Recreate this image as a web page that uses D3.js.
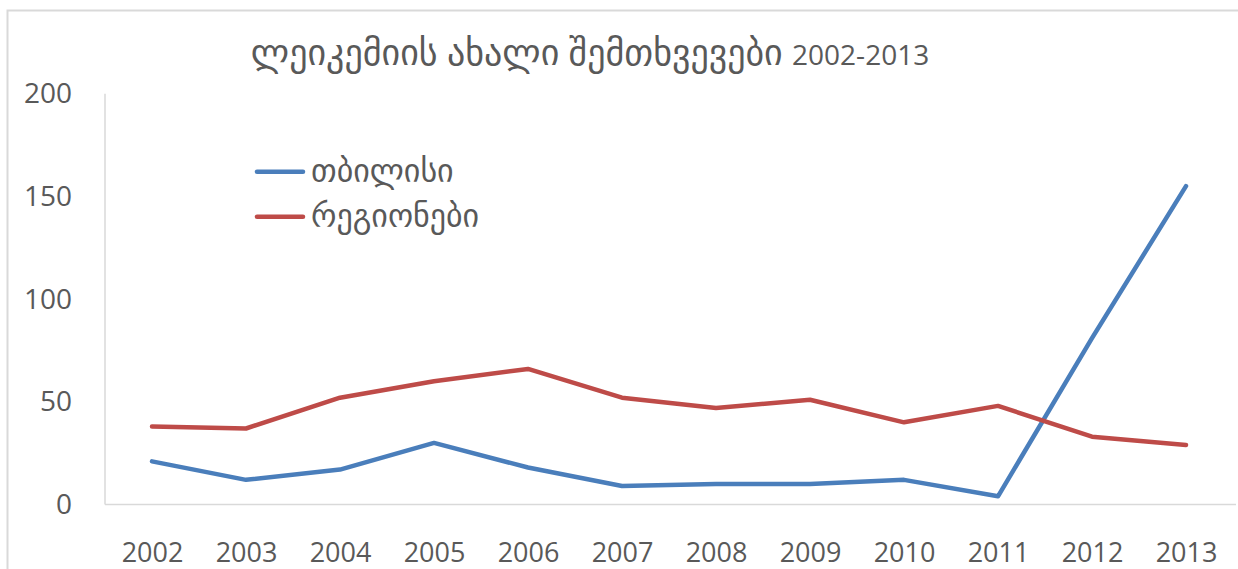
<!DOCTYPE html>
<html>
<head>
<meta charset="utf-8">
<script src="https://cdn.jsdelivr.net/npm/d3@7"></script>
<style>
  html, body { margin: 0; padding: 0; background: #fff; }
  svg { display: block; }
  text { font-family: "Open Sans", "DejaVu Sans", sans-serif; fill: #595959; }
</style>
</head>
<body>
<svg id="chart" width="1238" height="569"></svg>
<script>
const titleGeo = "ლეიკემიის ახალი შემთხვევები";
const titleYears = "2002-2013";
const years = ["2002","2003","2004","2005","2006","2007","2008","2009","2010","2011","2012","2013"];
const seriesNames = ["თბილისი", "რეგიონები"];
const tbilisi = [21, 12, 17, 30, 18, 9, 10, 10, 12, 4, 81, 155];
const regions = [38, 37, 52, 60, 66, 52, 47, 51, 40, 48, 33, 29];
const yTicks = [0, 50, 100, 150, 200];
const colors = ["#4a7ebb", "#be4b48"];

const svg = d3.select("#chart");
const plot = { left: 105, right: 1233, top: 93.7, bottom: 504.5 };

// outer frame
svg.append("rect")
  .attr("x", 7.5).attr("y", 10.5)
  .attr("width", 1400).attr("height", 700)
  .attr("fill", "none").attr("stroke", "#d9d9d9").attr("stroke-width", 2);

const x = d3.scalePoint().domain(years).range([plot.left, plot.right]).padding(0.5);
const y = d3.scaleLinear().domain([0, 200]).range([plot.bottom, plot.top]);

// axis lines
svg.append("line")
  .attr("x1", plot.left).attr("x2", plot.left)
  .attr("y1", plot.top).attr("y2", plot.bottom)
  .attr("stroke", "#d9d9d9").attr("stroke-width", 1.5);
svg.append("line")
  .attr("x1", plot.left).attr("x2", plot.right + 3)
  .attr("y1", plot.bottom).attr("y2", plot.bottom)
  .attr("stroke", "#d9d9d9").attr("stroke-width", 1.5);

// Y axis labels
const yAxis = d3.axisLeft(y).tickValues(yTicks).tickSize(0).tickPadding(33);
const gy = svg.append("g").attr("transform", `translate(${plot.left},0)`).call(yAxis);
gy.select(".domain").remove();
gy.selectAll("text").style("font-size", "28px").attr("fill", "#595959")
  .style("font-family", "'Open Sans', 'DejaVu Sans', sans-serif");

// X axis labels
const xAxis = d3.axisBottom(x).tickSize(0).tickPadding(0);
const gx = svg.append("g").attr("transform", `translate(0,${plot.bottom})`).call(xAxis);
gx.select(".domain").remove();
gx.selectAll("text").style("font-size", "27px").attr("fill", "#595959")
  .attr("dy", null).attr("y", 57)
  .style("font-family", "'Open Sans', 'DejaVu Sans', sans-serif");

// lines
const line = d3.line().x((d, i) => x(years[i])).y(d => y(d));
[tbilisi, regions].forEach((vals, k) => {
  svg.append("path")
    .datum(vals)
    .attr("d", line)
    .attr("fill", "none")
    .attr("stroke", colors[k])
    .attr("stroke-width", 4.5)
    .attr("stroke-linejoin", "round")
    .attr("stroke-linecap", "round");
});

// title
const t = svg.append("text")
  .attr("x", 590).attr("y", 65)
  .attr("text-anchor", "middle");
t.append("tspan").style("font-size", "36px").text(titleGeo + " ");
t.append("tspan").style("font-size", "28px").text(titleYears);

// legend
const legY = [171.7, 216.7];
seriesNames.forEach((name, k) => {
  svg.append("line")
    .attr("x1", 257).attr("x2", 303)
    .attr("y1", legY[k]).attr("y2", legY[k])
    .attr("stroke", colors[k]).attr("stroke-width", 4.5)
    .attr("stroke-linecap", "round");
  svg.append("text")
    .attr("x", 311).attr("y", legY[k] + 10)
    .style("font-size", "32px")
    .text(name);
});
</script>
</body>
</html>
